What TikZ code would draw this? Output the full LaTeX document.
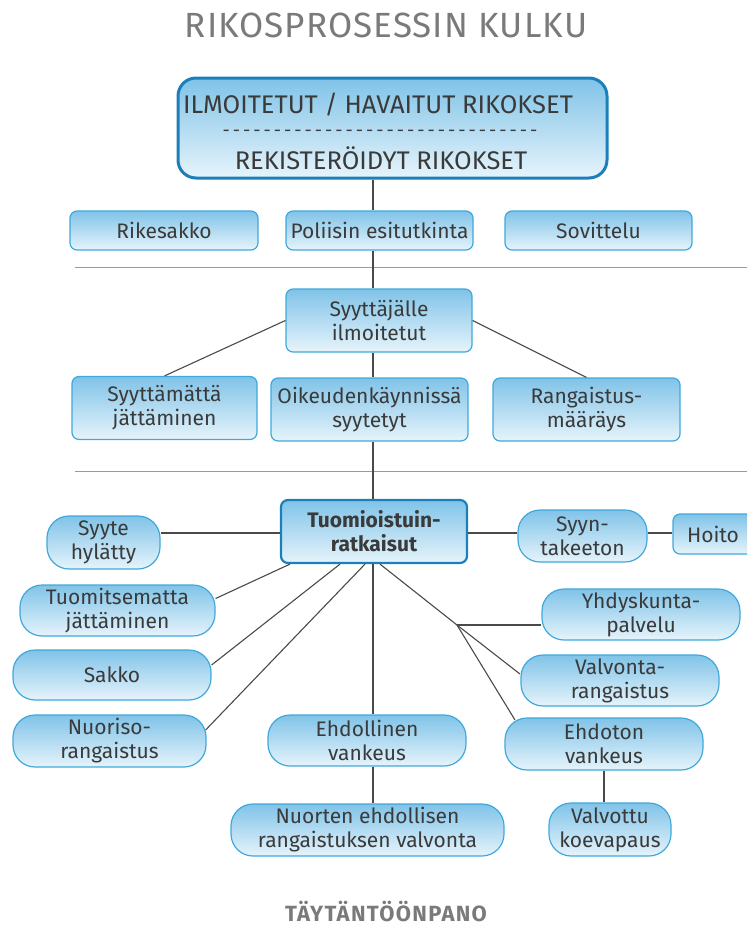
\documentclass[tikz,border=0pt]{standalone}
\usepackage{fontspec}
\setmainfont{Fira Sans}
\usetikzlibrary{calc}
\definecolor{bxborder}{HTML}{3FA9DB}
\definecolor{bxdark}{HTML}{1C7FBA}
\definecolor{bxtop}{HTML}{80C3E8}
\definecolor{bxbot}{HTML}{E6F4FB}
\definecolor{txt}{HTML}{3A3A3A}
\definecolor{ln}{HTML}{4A4A4A}
\definecolor{rule}{HTML}{9A9A9A}
\definecolor{ttl}{HTML}{7A7A7A}
\newcommand{\dashrow}{\foreach \k in {1,...,31}{-\hspace{3.0pt}}\unskip}
\tikzset{
  bx/.style={rectangle, rounded corners=7pt, draw=bxborder, line width=1.2pt,
    top color=bxtop, bottom color=bxbot, text=txt, align=center,
    font=\fontsize{21}{24}\selectfont, inner sep=0pt},
  pill/.style={bx, rounded corners=22pt},
  conn/.style={draw=ln, line width=1.1pt},
  hrule/.style={draw=rule, line width=1pt}
}
\begin{document}
\begin{tikzpicture}[x=1pt,y=-1pt]
\useasboundingbox (0,0) rectangle (747,929);
\coordinate (spine) at (373,0);
\begin{scope}
\clip (0,0) rectangle (747,929);
% title
\node[text=ttl, font=\fontsize{35}{38}\selectfont\addfontfeatures{LetterSpace=3}, inner sep=0pt] (title) at (386,25) {RIKOSPROSESSIN KULKU};
% top box
\node[bx, rounded corners=18pt, draw=bxdark, line width=3pt, minimum width=429pt, minimum height=100pt] (top) at (392.5,128) {};
\node[text=txt, font=\fontsize{25.5}{28}\selectfont, inner sep=0pt] (t1) at (378,105) {ILMOITETUT / HAVAITUT RIKOKSET};
\node[text=txt, font=\fontsize{18}{20}\selectfont, inner sep=0pt] (t2) at (380,133) {\dashrow};
\node[text=txt, font=\fontsize{25.5}{28}\selectfont, inner sep=0pt] (t3) at (381,158) {REKISTERÖIDYT RIKOKSET};
% row 2
\node[bx, minimum width=188pt, minimum height=39pt] (rike) at (164,230.5) {Rikesakko};
\node[bx, minimum width=187pt, minimum height=39pt] (poli) at (379.5,230.5) {Poliisin esitutkinta};
\node[bx, minimum width=187pt, minimum height=39pt] (sovi) at (598.5,230.5) {Sovittelu};
\draw[hrule] (75,267) -- (747,267);
% row 3
\node[bx, minimum width=186pt, minimum height=63pt] (syyt) at (379,320.5) {Syyttäjälle\\ilmoitetut};
\node[bx, minimum width=185pt, minimum height=63pt] (syma) at (164.5,408) {Syyttämättä\\jättäminen};
\node[bx, minimum width=197pt, minimum height=63pt] (oike) at (369.5,409.5) {Oikeudenkäynnissä\\syytetyt};
\node[bx, minimum width=187pt, minimum height=63pt] (rang) at (586.5,409.5) {Rangaistus-\\määräys};
\draw[hrule] (75,471) -- (747,471);
% row 4
\node[bx, draw=bxdark, line width=2.2pt, minimum width=186pt, minimum height=63pt, font=\fontsize{21}{24}\selectfont\bfseries] (tuom) at (374,531.5) {Tuomioistuin-\\ratkaisut};
\node[pill, minimum width=113pt, minimum height=53pt] (hyl) at (103.5,542.5) {Syyte\\hylätty};
\node[pill, minimum width=129pt, minimum height=52pt] (syyn) at (582.5,536) {Syyn-\\takeeton};
\node[bx, minimum width=84pt, minimum height=40pt, text width=84pt, align=left] (hoito) at (715,534) {\hspace*{14pt}Hoito};
% lower
\node[pill, minimum width=195pt, minimum height=51pt] (tmj) at (117.5,610.5) {Tuomitsematta\\jättäminen};
\node[pill, minimum width=198pt, minimum height=50pt] (sakko) at (112,675) {Sakko};
\node[pill, minimum width=193pt, minimum height=52pt] (nuor) at (109.5,741) {Nuoriso-\\rangaistus};
\node[pill, minimum width=198pt, minimum height=51pt] (ehdl) at (367,740.5) {Ehdollinen\\vankeus};
\node[pill, minimum width=273pt, minimum height=52pt] (nuort) at (367.5,830) {Nuorten ehdollisen\\rangaistuksen valvonta};
\node[pill, minimum width=198pt, minimum height=51pt] (yhd) at (641,614.5) {Yhdyskunta-\\palvelu};
\node[pill, minimum width=198pt, minimum height=51pt] (valv) at (620,680.5) {Valvonta-\\rangaistus};
\node[pill, minimum width=198pt, minimum height=52pt] (ehdt) at (604,744) {Ehdoton\\vankeus};
\node[pill, minimum width=122pt, minimum height=53pt] (valvk) at (610,829.5) {Valvottu\\koevapaus};
\node[text=ttl, font=\fontsize{22}{24}\selectfont\bfseries\addfontfeatures{LetterSpace=6}, inner sep=0pt] (foot) at (386,912) {TÄYTÄNTÖÖNPANO};
% connectors
\coordinate (j) at (457,625);
\draw[conn] (top.south -| spine) -- (poli.north -| spine);
\draw[conn] (poli.south -| spine) -- (syyt.north -| spine);
\draw[conn] (syyt.west) -- (syma.north);
\draw[conn] (syyt.east) -- (rang.north);
\draw[conn] (syyt.south -| spine) -- (oike.north -| spine);
\draw[conn] (oike.south -| spine) -- (tuom.north -| spine);
\draw[conn] (hyl.east |- 0,533) -- (tuom.west |- 0,533);
\draw[conn] (tuom.east |- 0,533) -- (syyn.west |- 0,533);
\draw[conn] (syyn.east |- 0,533) -- (hoito.west |- 0,533);
\draw[conn] (tuom.south -| 290,0) -- ($(tmj.east)+(0,-12)$);
\draw[conn] (tuom.south -| 340,0) -- ($(sakko.east)+(0,-10)$);
\draw[conn] (tuom.south -| 365,0) -- ($(nuor.east)+(-1,-11)$);
\draw[conn] (tuom.south -| spine) -- (ehdl.north -| spine);
\draw[conn] (ehdl.south -| spine) -- (nuort.north -| spine);
\draw[conn] (tuom.south -| 380,0) -- (j);
\draw[conn] (j) -- (yhd.west |- j);
\draw[conn] (j) -- (520,674);
\draw[conn] (j) -- (515,720);
\draw[conn] (ehdt.south) -- (valvk.north -| ehdt.south);
\end{scope}
\end{tikzpicture}
\end{document}
